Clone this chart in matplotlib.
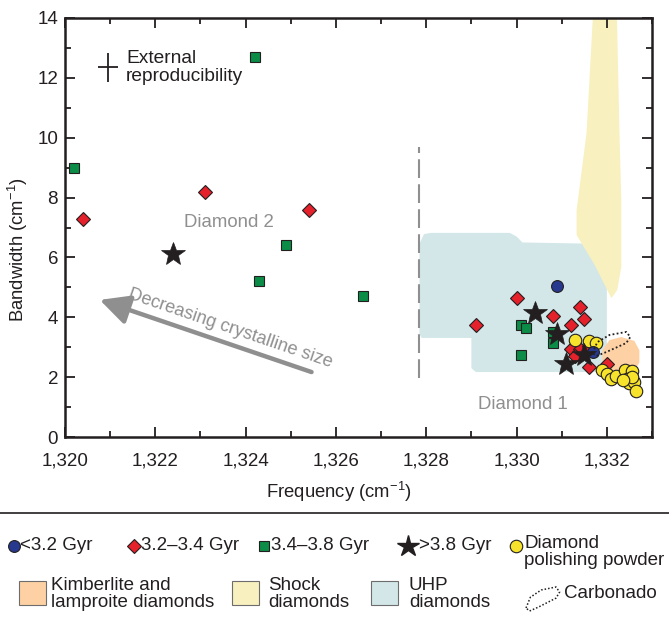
import matplotlib.pyplot as plt
from matplotlib.patches import Polygon, Rectangle
from matplotlib.ticker import MultipleLocator, FuncFormatter

plt.rcParams["font.family"] = ["Liberation Sans", "DejaVu Sans"]
plt.rcParams["mathtext.default"] = "regular"

INK = "#231f20"
GRAY = "#8f8f8f"
RED = "#e5212b"
GREEN = "#0b8c47"
BLUE = "#27388f"
YELLOW = "#f7e32c"
UHP_FILL = "#d3e7e8"
SHOCK_FILL = "#f9f0bf"
KIMB_FILL = "#fdd1a4"

# samples: (frequency cm-1, bandwidth cm-1)
blue_x = [1330.9, 1331.7]
blue_y = [5.05, 2.85]

red_x = [1320.4, 1323.1, 1325.4, 1329.1, 1330.0, 1330.8, 1331.4, 1331.5, 1331.2,
         1331.2, 1331.4, 1331.3, 1331.6, 1331.6, 1332.0]
red_y = [7.3, 8.2, 7.6, 3.75, 4.65, 4.05, 4.35, 3.95, 3.75,
         2.95, 2.95, 2.7, 3.05, 2.35, 2.45]

green_x = [1320.2, 1324.2, 1324.9, 1324.3, 1326.6, 1330.1, 1330.2, 1330.8, 1330.8, 1330.1]
green_y = [9.0, 12.7, 6.4, 5.2, 4.7, 3.75, 3.65, 3.5, 3.15, 2.75]

star_x = [1322.4, 1330.4, 1330.9, 1331.1, 1331.5]
star_y = [6.1, 4.15, 3.45, 2.45, 2.75]

polish_x = [1331.3, 1331.6, 1331.75, 1331.9, 1332.0, 1332.1, 1332.2, 1332.4, 1332.55,
            1332.45, 1332.5, 1332.6, 1332.55, 1332.65, 1332.35]
polish_y = [3.25, 3.2, 3.15, 2.25, 2.1, 1.95, 2.05, 2.25, 2.2,
            1.95, 1.8, 1.85, 2.0, 1.55, 1.9]

# field outlines
uhp_x = [1327.85, 1327.95, 1328.1, 1329.85, 1330.0, 1330.13, 1332.0, 1332.0, 1331.9,
         1329.1, 1329.0, 1329.0, 1327.9, 1327.85]
uhp_y = [6.45, 6.78, 6.82, 6.82, 6.7, 6.5, 6.45, 2.3, 2.17,
         2.17, 2.3, 3.31, 3.31, 3.45]

shock_x = [1331.7, 1331.55, 1331.33, 1331.33, 1331.73, 1332.1, 1332.23, 1332.32,
           1332.32, 1332.28, 1332.22]
shock_y = [14.3, 10.16, 7.58, 6.75, 5.75, 4.64, 4.91, 5.68, 7.92, 10.16, 14.3]

kimb_x = [1331.9, 1331.9, 1332.06, 1332.32, 1332.61, 1332.72, 1332.72, 1332.63, 1332.06]
kimb_y = [2.34, 2.9, 3.24, 3.34, 3.21, 2.9, 2.5, 2.24, 2.2]

carb_x = [1331.68, 1331.79, 1332.06, 1332.43, 1332.52, 1332.43, 1331.99, 1331.77, 1331.68]
carb_y = [2.81, 3.17, 3.41, 3.51, 3.34, 3.14, 2.84, 2.71, 2.81]

# reproducibility cross
repro_x, repro_y = 1320.95, 12.35
repro_xerr, repro_yerr = 0.23, 0.48

fig = plt.figure(figsize=(6.69, 6.19), dpi=100)
ax = fig.add_axes([65 / 669, 1 - 437 / 619, 587 / 669, 419 / 619])

ax.add_patch(Polygon(list(zip(uhp_x, uhp_y)), closed=True, facecolor=UHP_FILL,
                     edgecolor="none", joinstyle="round", zorder=1))
ax.add_patch(Polygon(list(zip(shock_x, shock_y)), closed=True, facecolor=SHOCK_FILL,
                     edgecolor="none", zorder=1.2))
ax.add_patch(Polygon(list(zip(kimb_x, kimb_y)), closed=True, facecolor=KIMB_FILL,
                     edgecolor="none", zorder=1.4))

ax.plot([1327.83, 1327.83], [1.97, 9.7], color=GRAY, lw=1.5, dashes=(9, 3), zorder=2)

mk = dict(ls="none", markeredgecolor=INK, markeredgewidth=0.8, zorder=4)
ax.plot(green_x, green_y, marker="s", markersize=7, color=GREEN, **mk)
ax.plot(red_x, red_y, marker="D", markersize=6.8, color=RED, **mk)
ax.plot(polish_x, polish_y, marker="o", markersize=9, color=YELLOW, **mk)
ax.plot(blue_x, blue_y, marker="o", markersize=8.5, color=BLUE, **mk)
ax.plot(star_x, star_y, marker="*", markersize=18, color=INK, ls="none",
        markeredgecolor=INK, markeredgewidth=0.5, zorder=5)
ax.plot(carb_x, carb_y, color=INK, lw=1.3, ls=(0, (1, 1.3)), zorder=6)

ax.errorbar([repro_x], [repro_y], xerr=repro_xerr, yerr=repro_yerr, fmt="none",
            ecolor=INK, elinewidth=1.3, capsize=0, zorder=4)
ax.text(1321.35, 12.35, "External\nreproducibility", fontsize=13.8, color=INK,
        ha="left", va="center", linespacing=1.05)
ax.text(1323.63, 7.18, "Diamond 2", fontsize=13.4, color=GRAY, ha="center", va="center")
ax.text(1330.13, 1.1, "Diamond 1", fontsize=13.4, color=GRAY, ha="center", va="center")

ax.annotate("", xy=(1320.77, 4.58), xytext=(1325.46, 2.17),
            arrowprops=dict(arrowstyle="-|>,head_length=0.9,head_width=0.45",
                            color=GRAY, lw=3.2, mutation_scale=20, shrinkA=0, shrinkB=0))
ax.text(1323.65, 3.64, "Decreasing crystalline size", fontsize=13.1, color=GRAY,
        rotation=-18.8, rotation_mode="anchor", ha="center", va="center")

ax.set_xlim(1320, 1333)
ax.set_ylim(0, 14)
ax.xaxis.set_major_locator(MultipleLocator(2))
ax.xaxis.set_minor_locator(MultipleLocator(1))
ax.yaxis.set_major_locator(MultipleLocator(2))
ax.yaxis.set_minor_locator(MultipleLocator(1))
ax.xaxis.set_major_formatter(FuncFormatter(lambda v, p: f"{v:,.0f}"))
ax.tick_params(which="both", direction="in", top=True, right=True, colors=INK,
               labelsize=13.5, width=1.3)
ax.tick_params(which="major", length=7)
ax.tick_params(which="minor", length=4)
ax.tick_params(axis="x", which="major", pad=11)
ax.tick_params(axis="y", which="major", pad=5)
for s in ax.spines.values():
    s.set_linewidth(1.8)
    s.set_color(INK)

fig.text(339 / 669, 1 - 492 / 619, "Frequency (cm$^{-1}$)", fontsize=13.3, color=INK,
         ha="center", va="center")
fig.text(18 / 669, 1 - 250 / 619, "Bandwidth (cm$^{-1}$)", fontsize=13.3, color=INK,
         ha="center", va="center", rotation=90)

# legend drawn in pixel coordinates
lg = fig.add_axes([0, 0, 1, 1], zorder=-1)
lg.set_xlim(0, 669)
lg.set_ylim(619, 0)
lg.axis("off")
lg.plot([0, 669], [513, 513], color=INK, lw=1.2)

fs = 13.5
row1 = 546
lg.plot([14], [row1], marker="o", markersize=8.5, color=BLUE, **mk)
lg.text(20, row1, "<3.2 Gyr", fontsize=fs, color=INK, va="center")
lg.plot([134], [row1], marker="D", markersize=6.8, color=RED, **mk)
lg.text(141, row1, "3.2\u20133.4 Gyr", fontsize=fs, color=INK, va="center")
lg.plot([264], [row1], marker="s", markersize=7, color=GREEN, **mk)
lg.text(271, row1, "3.4\u20133.8 Gyr", fontsize=fs, color=INK, va="center")
lg.plot([408], [row1], marker="*", markersize=16, color=INK, ls="none", zorder=4)
lg.text(419, row1, ">3.8 Gyr", fontsize=fs, color=INK, va="center")
lg.plot([516], [row1], marker="o", markersize=9, color=YELLOW, **mk)
lg.text(524, row1 - 11, "Diamond\npolishing powder", fontsize=fs, color=INK,
        va="top", linespacing=1.0)

row2 = 581
for x0, fill in [(19, KIMB_FILL), (232, SHOCK_FILL), (371, UHP_FILL)]:
    lg.add_patch(Rectangle((x0, row2), 27, 24, facecolor=fill, edgecolor="#6d6d6d", lw=0.8))
lg.text(51, row2 - 4, "Kimberlite and\nlamproite diamonds", fontsize=fs, color=INK,
        va="top", linespacing=0.98)
lg.text(268, row2 - 4, "Shock\ndiamonds", fontsize=fs, color=INK, va="top", linespacing=0.98)
lg.text(409, row2 - 4, "UHP\ndiamonds", fontsize=fs, color=INK, va="top", linespacing=0.98)
# carbonado legend outline reuses the field outline shape, shifted into legend space
lg.plot([526 + (v - 1331.68) * 40 for v in carb_x],
        [608 - (v - 2.81) * 30 for v in carb_y], color=INK, lw=1.1, ls=(0, (1, 1.3)))
lg.text(564, 594, "Carbonado", fontsize=fs, color=INK, va="center")

fig.savefig("out.png", dpi=100)
